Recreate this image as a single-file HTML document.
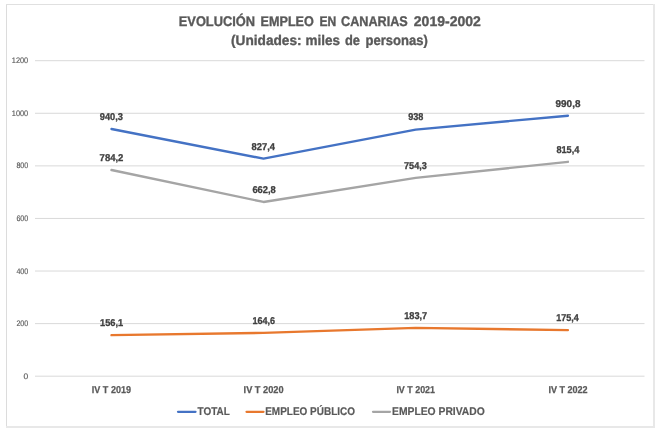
<!DOCTYPE html>
<html><head><meta charset="utf-8"><title>Evolución empleo en Canarias</title>
<style>html,body{margin:0;padding:0;background:#fff;width:660px;height:433px;overflow:hidden}svg{display:block;will-change:transform;text-rendering:geometricPrecision}</style></head>
<body><svg width="660" height="433" viewBox="0 0 660 433">
<line x1="6.5" y1="4" x2="6.5" y2="428" stroke="#dcdcdc" stroke-width="1"/>
<line x1="6" y1="4.5" x2="655" y2="4.5" stroke="#e0e0e0" stroke-width="1"/>
<line x1="654" y1="4" x2="654" y2="428" stroke="#e8e8e8" stroke-width="2"/>
<line x1="6" y1="427" x2="655" y2="427" stroke="#e8e8e8" stroke-width="2"/>
<line x1="35" x2="644.5" y1="376.20" y2="376.20" stroke="#d9d9d9" stroke-width="1"/>
<line x1="35" x2="644.5" y1="323.62" y2="323.62" stroke="#d9d9d9" stroke-width="1"/>
<line x1="35" x2="644.5" y1="271.03" y2="271.03" stroke="#d9d9d9" stroke-width="1"/>
<line x1="35" x2="644.5" y1="218.45" y2="218.45" stroke="#d9d9d9" stroke-width="1"/>
<line x1="35" x2="644.5" y1="165.87" y2="165.87" stroke="#d9d9d9" stroke-width="1"/>
<line x1="35" x2="644.5" y1="113.28" y2="113.28" stroke="#d9d9d9" stroke-width="1"/>
<line x1="35" x2="644.5" y1="60.70" y2="60.70" stroke="#d9d9d9" stroke-width="1"/>
<polyline points="111.50,128.98 263.50,158.66 415.70,129.58 567.90,115.70" fill="none" stroke="#4472c4" stroke-width="2.4" stroke-linejoin="round" stroke-linecap="round"/>
<polyline points="111.50,170.02 263.50,201.94 415.70,177.88 567.90,161.82" fill="none" stroke="#a5a5a5" stroke-width="2.4" stroke-linejoin="round" stroke-linecap="round"/>
<polyline points="111.50,335.16 263.50,332.92 415.70,327.90 567.90,330.08" fill="none" stroke="#e8782e" stroke-width="2.4" stroke-linejoin="round" stroke-linecap="round"/>
<line x1="178" x2="195.5" y1="411.8" y2="411.8" stroke="#4472c4" stroke-width="2.25" stroke-linecap="round"/>
<line x1="246.5" x2="263.5" y1="411.8" y2="411.8" stroke="#e8782e" stroke-width="2.25" stroke-linecap="round"/>
<line x1="373" x2="390" y1="411.8" y2="411.8" stroke="#a5a5a5" stroke-width="2.25" stroke-linecap="round"/>
<text x="178.80" y="26.00" font-family="Liberation Sans" font-weight="bold" font-size="14" fill="#595959" stroke="#595959" stroke-width="0.35" textLength="76.21" lengthAdjust="spacingAndGlyphs">EVOLUCIÓN</text>
<text x="260.60" y="26.00" font-family="Liberation Sans" font-weight="bold" font-size="14" fill="#595959" stroke="#595959" stroke-width="0.35" textLength="53.21" lengthAdjust="spacingAndGlyphs">EMPLEO</text>
<text x="319.40" y="26.00" font-family="Liberation Sans" font-weight="bold" font-size="14" fill="#595959" stroke="#595959" stroke-width="0.35" textLength="16.82" lengthAdjust="spacingAndGlyphs">EN</text>
<text x="341.00" y="26.00" font-family="Liberation Sans" font-weight="bold" font-size="14" fill="#595959" stroke="#595959" stroke-width="0.35" textLength="66.82" lengthAdjust="spacingAndGlyphs">CANARIAS</text>
<text x="413.80" y="26.00" font-family="Liberation Sans" font-weight="bold" font-size="14" fill="#595959" stroke="#595959" stroke-width="0.35" textLength="67.01" lengthAdjust="spacingAndGlyphs">2019-2002</text>
<text x="231.00" y="45.20" font-family="Liberation Sans" font-weight="bold" font-size="14" fill="#595959" stroke="#595959" stroke-width="0.35" textLength="70.61" lengthAdjust="spacingAndGlyphs">(Unidades:</text>
<text x="305.60" y="45.20" font-family="Liberation Sans" font-weight="bold" font-size="14" fill="#595959" stroke="#595959" stroke-width="0.35" textLength="34.48" lengthAdjust="spacingAndGlyphs">miles</text>
<text x="345.00" y="45.20" font-family="Liberation Sans" font-weight="bold" font-size="14" fill="#595959" stroke="#595959" stroke-width="0.35" textLength="15.00" lengthAdjust="spacingAndGlyphs">de</text>
<text x="365.60" y="45.20" font-family="Liberation Sans" font-weight="bold" font-size="14" fill="#595959" stroke="#595959" stroke-width="0.35" textLength="62.21" lengthAdjust="spacingAndGlyphs">personas)</text>
<text x="23.60" y="378.80" font-family="Liberation Sans" font-size="8" fill="#595959" stroke="#595959" stroke-width="0.15" textLength="4.69" lengthAdjust="spacingAndGlyphs">0</text>
<text x="16.40" y="326.22" font-family="Liberation Sans" font-size="8" fill="#595959" stroke="#595959" stroke-width="0.15" textLength="11.83" lengthAdjust="spacingAndGlyphs">200</text>
<text x="16.40" y="273.63" font-family="Liberation Sans" font-size="8" fill="#595959" stroke="#595959" stroke-width="0.15" textLength="11.83" lengthAdjust="spacingAndGlyphs">400</text>
<text x="16.40" y="221.05" font-family="Liberation Sans" font-size="8" fill="#595959" stroke="#595959" stroke-width="0.15" textLength="11.83" lengthAdjust="spacingAndGlyphs">600</text>
<text x="16.40" y="168.47" font-family="Liberation Sans" font-size="8" fill="#595959" stroke="#595959" stroke-width="0.15" textLength="11.83" lengthAdjust="spacingAndGlyphs">800</text>
<text x="11.80" y="115.88" font-family="Liberation Sans" font-size="8" fill="#595959" stroke="#595959" stroke-width="0.15" textLength="16.40" lengthAdjust="spacingAndGlyphs">1000</text>
<text x="11.80" y="63.30" font-family="Liberation Sans" font-size="8" fill="#595959" stroke="#595959" stroke-width="0.15" textLength="16.40" lengthAdjust="spacingAndGlyphs">1200</text>
<text x="99.80" y="120.00" font-family="Liberation Sans" font-weight="bold" font-size="9.9" fill="#404040" stroke="#404040" stroke-width="0.3" textLength="23.21" lengthAdjust="spacingAndGlyphs">940,3</text>
<text x="251.60" y="150.00" font-family="Liberation Sans" font-weight="bold" font-size="9.9" fill="#404040" stroke="#404040" stroke-width="0.3" textLength="23.42" lengthAdjust="spacingAndGlyphs">827,4</text>
<text x="408.20" y="120.00" font-family="Liberation Sans" font-weight="bold" font-size="9.9" fill="#404040" stroke="#404040" stroke-width="0.3" textLength="15.21" lengthAdjust="spacingAndGlyphs">938</text>
<text x="555.60" y="107.00" font-family="Liberation Sans" font-weight="bold" font-size="9.9" fill="#404040" stroke="#404040" stroke-width="0.3" textLength="24.81" lengthAdjust="spacingAndGlyphs">990,8</text>
<text x="99.60" y="161.00" font-family="Liberation Sans" font-weight="bold" font-size="9.9" fill="#404040" stroke="#404040" stroke-width="0.3" textLength="23.81" lengthAdjust="spacingAndGlyphs">784,2</text>
<text x="252.40" y="193.00" font-family="Liberation Sans" font-weight="bold" font-size="9.9" fill="#404040" stroke="#404040" stroke-width="0.3" textLength="23.42" lengthAdjust="spacingAndGlyphs">662,8</text>
<text x="404.00" y="169.00" font-family="Liberation Sans" font-weight="bold" font-size="9.9" fill="#404040" stroke="#404040" stroke-width="0.3" textLength="22.82" lengthAdjust="spacingAndGlyphs">754,3</text>
<text x="556.40" y="153.00" font-family="Liberation Sans" font-weight="bold" font-size="9.9" fill="#404040" stroke="#404040" stroke-width="0.3" textLength="23.02" lengthAdjust="spacingAndGlyphs">815,4</text>
<text x="100.00" y="326.00" font-family="Liberation Sans" font-weight="bold" font-size="9.9" fill="#404040" stroke="#404040" stroke-width="0.3" textLength="23.21" lengthAdjust="spacingAndGlyphs">156,1</text>
<text x="252.40" y="324.00" font-family="Liberation Sans" font-weight="bold" font-size="9.9" fill="#404040" stroke="#404040" stroke-width="0.3" textLength="22.63" lengthAdjust="spacingAndGlyphs">164,6</text>
<text x="404.20" y="319.00" font-family="Liberation Sans" font-weight="bold" font-size="9.9" fill="#404040" stroke="#404040" stroke-width="0.3" textLength="23.00" lengthAdjust="spacingAndGlyphs">183,7</text>
<text x="556.20" y="321.00" font-family="Liberation Sans" font-weight="bold" font-size="9.9" fill="#404040" stroke="#404040" stroke-width="0.3" textLength="22.63" lengthAdjust="spacingAndGlyphs">175,4</text>
<text x="91.80" y="392.50" font-family="Liberation Sans" font-weight="bold" font-size="10" fill="#595959" stroke="#595959" stroke-width="0.25" textLength="39.21" lengthAdjust="spacingAndGlyphs">IV T 2019</text>
<text x="243.60" y="392.50" font-family="Liberation Sans" font-weight="bold" font-size="10" fill="#595959" stroke="#595959" stroke-width="0.25" textLength="40.00" lengthAdjust="spacingAndGlyphs">IV T 2020</text>
<text x="396.40" y="392.50" font-family="Liberation Sans" font-weight="bold" font-size="10" fill="#595959" stroke="#595959" stroke-width="0.25" textLength="38.62" lengthAdjust="spacingAndGlyphs">IV T 2021</text>
<text x="548.40" y="392.50" font-family="Liberation Sans" font-weight="bold" font-size="10" fill="#595959" stroke="#595959" stroke-width="0.25" textLength="39.21" lengthAdjust="spacingAndGlyphs">IV T 2022</text>
<text x="197.60" y="414.60" font-family="Liberation Sans" font-weight="bold" font-size="11.2" fill="#595959" stroke="#595959" stroke-width="0.2" textLength="32.23" lengthAdjust="spacingAndGlyphs">TOTAL</text>
<text x="265.20" y="414.60" font-family="Liberation Sans" font-weight="bold" font-size="11.2" fill="#595959" stroke="#595959" stroke-width="0.2" textLength="89.80" lengthAdjust="spacingAndGlyphs">EMPLEO PÚBLICO</text>
<text x="392.00" y="414.60" font-family="Liberation Sans" font-weight="bold" font-size="11.2" fill="#595959" stroke="#595959" stroke-width="0.2" textLength="92.80" lengthAdjust="spacingAndGlyphs">EMPLEO PRIVADO</text>
</svg></body></html>
